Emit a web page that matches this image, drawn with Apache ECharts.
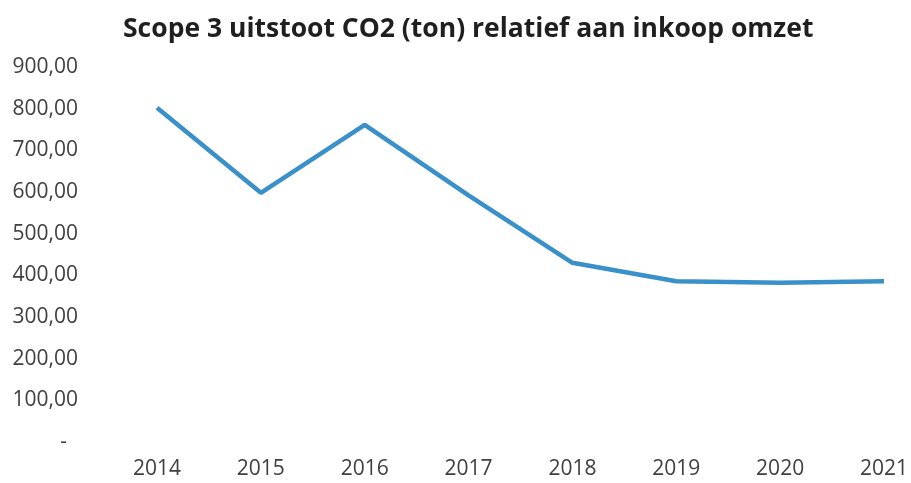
<!DOCTYPE html>
<html lang="nl">

<head>
  <meta charset="utf-8">
  <title>Scope 3</title>
  <script src="https://cdn.jsdelivr.net/npm/echarts@6/dist/echarts.min.js"></script>
</head>

<body style="margin:0">
<div id="main" style="width: 911px;height:483px;"></div>
<script type="text/javascript">
    var years = ['2014', '2015', '2016', '2017', '2018', '2019', '2020', '2021'];
    var uitstoot = [802, 598, 761, 592, 430, 386, 382, 386];

    var myChart = echarts.init(document.getElementById('main'));

    var option = {
        title: {
            text: 'Scope 3 uitstoot CO2 (ton) relatief aan inkoop omzet',
            left: 118,
            top: 11,
            textStyle: {
                fontFamily: 'Open Sans',
                fontSize: 26.5,
                fontWeight: 'bold',
                color: '#1f1f1f'
            }
        },
        grid: {
            left: 157,
            right: 25,
            top: 67,
            bottom: 41
        },
        xAxis: {
            type: 'category',
            data: years,
            boundaryGap: false,
            axisLine: { show: false },
            axisTick: { show: false },
            axisLabel: {
                margin: 17,
                fontFamily: 'Open Sans',
                fontSize: 21,
                color: '#404040'
            }
        },
        yAxis: {
            type: 'value',
            min: 0,
            max: 900,
            interval: 100,
            splitLine: { show: false },
            axisLabel: {
                margin: 79,
                fontFamily: 'Open Sans',
                fontSize: 21,
                color: '#404040',
                formatter: function (v) {
                    if (v === 0) {
                        return '-  ';
                    }
                    return v.toFixed(2).replace('.', ',');
                }
            }
        },
        series: [{
            name: 'Scope 3',
            type: 'line',
            symbol: 'none',
            data: uitstoot,
            lineStyle: {
                width: 4.5,
                color: '#3a90c9'
            }
        }]
    };

    myChart.setOption(option);
</script>

</body>
</html>
